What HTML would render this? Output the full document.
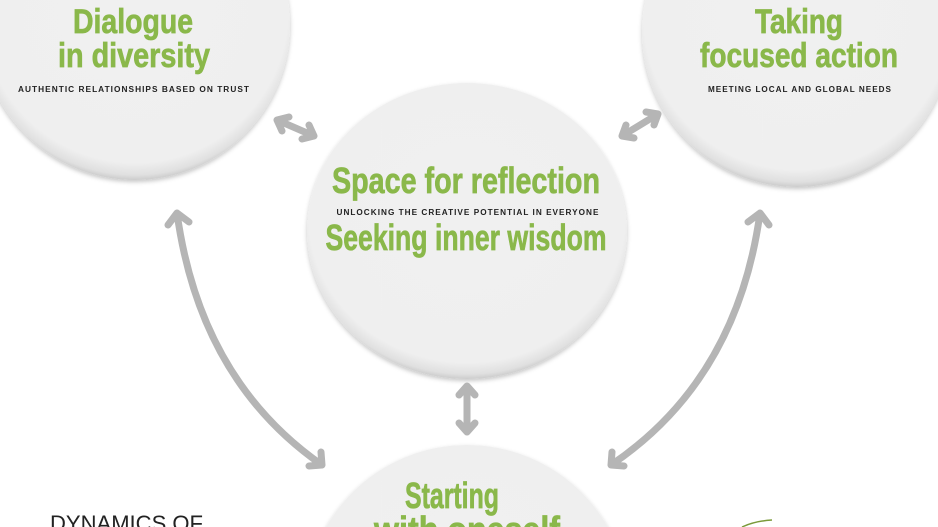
<!DOCTYPE html>
<html><head><meta charset="utf-8"><style>
html,body{margin:0;padding:0;background:#fff;width:938px;height:527px;overflow:hidden;}
svg{display:block;}
.g{font-family:"Liberation Sans Narrow","Liberation Sans",sans-serif;font-weight:bold;fill:#8ab84a;stroke:#8ab84a;stroke-width:0.7;}
.s{font-family:"Liberation Sans Narrow","Liberation Sans",sans-serif;font-weight:bold;fill:#222;letter-spacing:1px;}
.d{font-family:"Liberation Sans Narrow","Liberation Sans",sans-serif;font-weight:normal;fill:#222;}
</style></head><body>
<svg width="938" height="527" viewBox="0 0 938 527" xmlns="http://www.w3.org/2000/svg">
<defs>
<radialGradient id="cg" cx="50%" cy="45%" r="55%">
<stop offset="0" stop-color="#f0f0f0"/><stop offset="0.9" stop-color="#efefef"/><stop offset="0.97" stop-color="#e0e0e0"/><stop offset="1" stop-color="#cccccc"/>
</radialGradient>
<filter id="sh" x="-10%" y="-10%" width="120%" height="125%"><feDropShadow dx="0" dy="2" stdDeviation="2" flood-color="#000" flood-opacity="0.22"/></filter>
</defs>
<circle cx="135" cy="25" r="155" fill="url(#cg)" filter="url(#sh)"/>
<circle cx="797" cy="32" r="155" fill="url(#cg)" filter="url(#sh)"/>
<ellipse cx="467" cy="231" rx="160" ry="148" fill="url(#cg)" filter="url(#sh)"/>
<circle cx="467" cy="607" r="162" fill="url(#cg)" filter="url(#sh)"/>

<g stroke="#b5b5b5" stroke-width="7" fill="none" stroke-linecap="round" stroke-linejoin="round">
<path d="M277,120 L314,136 M277,120 L282,131 M277,120 L289,117 M314,136 L309,125 M314,136 L302,139"/>
<path d="M658,114 L622,136 M658,114 L646,112 M658,114 L654,125 M622,136 L634,138 M622,136 L626,125"/>
<path d="M467,386 L467,432 M467,386 L459,395 M467,386 L475,395 M467,432 L459,423 M467,432 L475,423"/>
<path d="M177,213 Q200,380 322,465 M177,213 L168,225 M177,213 L189,222 M322,465 L309,466 M322,465 L321,452"/>
<path d="M760,213 Q737,380 611,465 M760,213 L769,225 M760,213 L748,222 M611,465 L624,466 M611,465 L612,452"/>
</g>

<text class="g" x="133" y="33" font-size="34" text-anchor="middle" textLength="120" lengthAdjust="spacingAndGlyphs">Dialogue</text>
<text class="g" x="134" y="67" font-size="34" text-anchor="middle" textLength="152" lengthAdjust="spacingAndGlyphs">in diversity</text>
<text class="s" x="134" y="92" font-size="8" text-anchor="middle" textLength="232" lengthAdjust="spacingAndGlyphs">AUTHENTIC RELATIONSHIPS BASED ON TRUST</text>

<text class="g" x="799" y="33" font-size="34" text-anchor="middle" textLength="88" lengthAdjust="spacingAndGlyphs">Taking</text>
<text class="g" x="799" y="67" font-size="34" text-anchor="middle" textLength="198" lengthAdjust="spacingAndGlyphs">focused action</text>
<text class="s" x="800" y="92" font-size="8" text-anchor="middle" textLength="184" lengthAdjust="spacingAndGlyphs">MEETING LOCAL AND GLOBAL NEEDS</text>

<text class="g" x="466" y="193" font-size="36" text-anchor="middle" textLength="268" lengthAdjust="spacingAndGlyphs">Space for reflection</text>
<text class="s" x="468" y="215" font-size="8" text-anchor="middle" textLength="263" lengthAdjust="spacingAndGlyphs">UNLOCKING THE CREATIVE POTENTIAL IN EVERYONE</text>
<text class="g" x="466" y="250" font-size="36" text-anchor="middle" textLength="281" lengthAdjust="spacingAndGlyphs">Seeking inner wisdom</text>

<text class="g" x="452" y="508" font-size="36" text-anchor="middle" textLength="94" lengthAdjust="spacingAndGlyphs">Starting</text>
<text class="g" x="467" y="542" font-size="36" text-anchor="middle" textLength="186" lengthAdjust="spacingAndGlyphs">with oneself</text>

<text class="d" x="50" y="531" font-size="22" textLength="153" lengthAdjust="spacingAndGlyphs">DYNAMICS OF</text>
<path d="M742,527 Q755,521 772,520" stroke="#7a9a3a" stroke-width="1.5" fill="none"/>
</svg>
</body></html>
